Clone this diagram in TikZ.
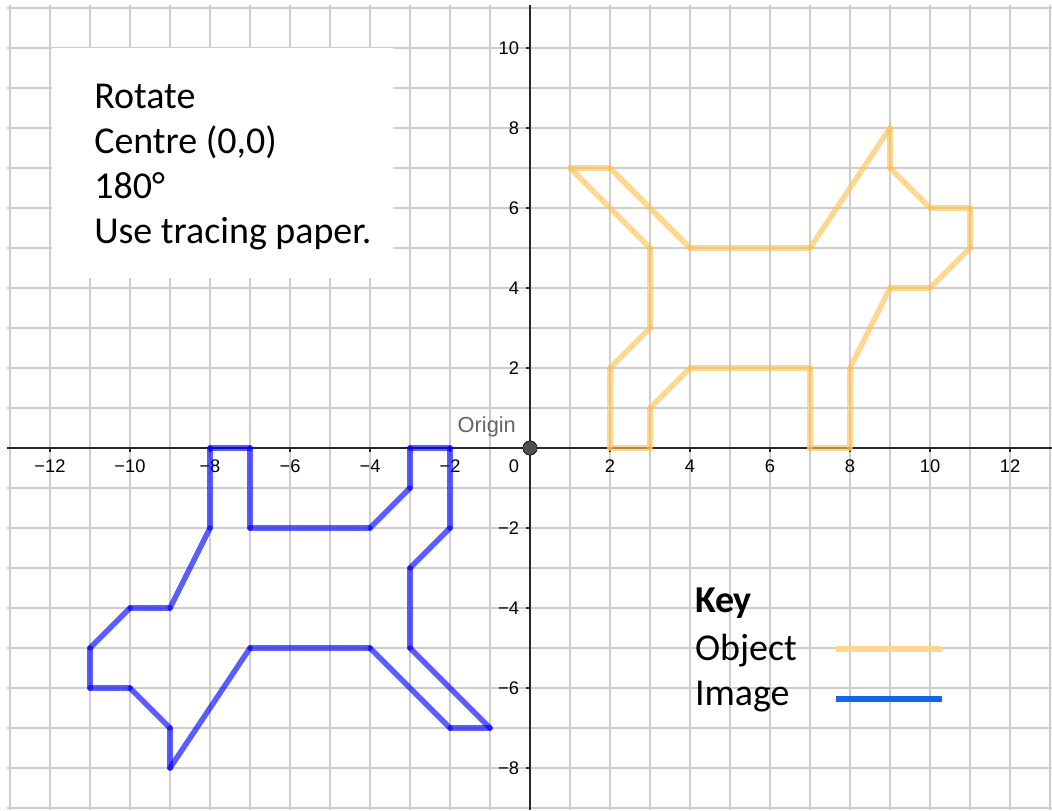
\documentclass[tikz,border=0pt]{standalone}
\usepackage{fontspec}
\setmainfont{Carlito}
\newfontfamily\axisfont{Liberation Sans}
\usepackage{xcolor}
\usepackage{tikz}

\definecolor{gridgray}{RGB}{205,205,205}
\definecolor{axisgray}{RGB}{40,40,40}
\definecolor{objorange}{RGB}{255,193,81}
\definecolor{imgblue}{RGB}{0,0,255}
\definecolor{keyorange}{RGB}{255,214,140}
\definecolor{keyblue}{RGB}{21,101,232}
\definecolor{labelgray}{RGB}{100,100,100}
\definecolor{dotgray}{RGB}{80,80,80}

\tikzset{
    gridline/.style={draw=gridgray, line width=0.9pt},
    axisline/.style={draw=axisgray, line width=1.1pt},
    ticklabel/.style={font=\axisfont\fontsize{13}{15}\selectfont, inner sep=0pt},
    dogline/.style={line width=3.9pt, line cap=round, opacity=0.64},
    keyline/.style={line width=3.7pt},
    bigtext/.style={font=\fontsize{27}{32}\selectfont, inner sep=0pt, anchor=base west},
}

\begin{document}
\begin{tikzpicture}
    \useasboundingbox (-13.25,-9.05) rectangle (13.05,11.2);

    % Square grid
    \draw[gridline] (-13.08,-9.05) grid (13.05,11.08);

    % White box behind the task text
    \fill[white] (-11.95,4.25) rectangle (-3.42,10);

    % Axes
    \draw[axisline] (-13.08,0) -- (13.05,0);
    \draw[axisline] (0,-9.05) -- (0,11.08);

    \foreach \x in {-12,-10,-8,-6,-4,-2,2,4,6,8,10,12} {
        % Tick below the x axis
        \draw[axisline, line width=0.8pt] (\x,0) -- (\x,-0.1);
        % Number under the tick
        \node[ticklabel, anchor=north] (xlab\x) at (\x,-0.28) {\ifnum\x<0 −\the\numexpr-\x\relax\else\x\fi};
    }

    \foreach \y in {-8,-6,-4,-2,2,4,6,8,10} {
        % Tick left of the y axis
        \draw[axisline, line width=0.8pt] (0,\y) -- (-0.1,\y);
        % Number left of the tick
        \node[ticklabel, anchor=east] (ylab\y) at (-0.27,\y) {\ifnum\y<0 −\the\numexpr-\y\relax\else\y\fi};
    }

    \node[ticklabel, anchor=north east] (zerolab) at (-0.27,-0.28) {0};

    % Object, then the image turned half way round the origin
    \foreach \col/\turn in {objorange/0, imgblue/180} {
        \begin{scope}[rotate=\turn]
            \foreach \xa/\ya/\xb/\yb in {1/7/2/7, 2/7/4/5, 4/5/7/5, 7/5/9/8, 9/8/9/7, 9/7/10/6,
                10/6/11/6, 11/6/11/5, 11/5/10/4, 10/4/9/4, 9/4/8/2, 8/2/8/0, 8/0/7/0, 7/0/7/2,
                7/2/4/2, 4/2/3/1, 3/1/3/0, 3/0/2/0, 2/0/2/2, 2/2/3/3, 3/3/3/5, 3/5/1/7} {
                \draw[dogline, \col] (\xa,\ya) -- (\xb,\yb);
            }
        \end{scope}
    }

    % Centre of rotation
    \node[circle, fill=dotgray, draw=black, line width=0.4pt, minimum size=0.36cm, inner sep=0pt] (origin) at (0,0) {};
    \node[font=\axisfont\fontsize{15.5}{18}\selectfont, text=labelgray, inner sep=0pt, anchor=base] (originlab) at (-1.08,0.4) {Origin};

    % Task text
    \foreach \i/\y/\txt in {1/8.5/Rotate, 2/7.37/{Centre (0,0)}, 3/6.24/180°, 4/5.11/Use tracing paper.} {
        \node[bigtext] (task\i) at (-10.9,\y) {\txt};
    }

    % Key
    \node[bigtext, font=\fontsize{27}{32}\selectfont\bfseries] (keyhead) at (4.12,-4.12) {Key};
    \node[bigtext] (keyobj) at (4.12,-5.3) {Object};
    \node[bigtext] (keyimg) at (4.12,-6.43) {Image};
    \coordinate (objstart) at (7.65,-5.025);
    \coordinate (objend) at (10.3,-5.025);
    \coordinate (imgstart) at (7.65,-6.275);
    \coordinate (imgend) at (10.3,-6.275);
    \draw[keyline, keyorange] (objstart) -- (objend);
    \draw[keyline, keyblue] (imgstart) -- (imgend);
\end{tikzpicture}
\end{document}
